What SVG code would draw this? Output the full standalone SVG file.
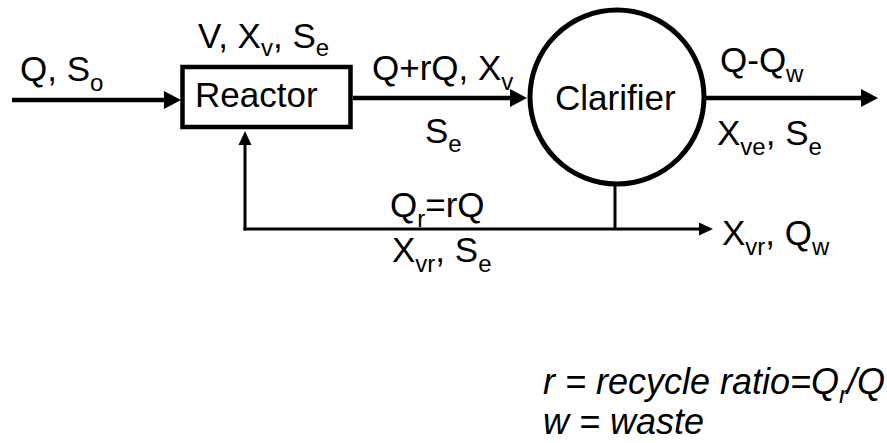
<svg xmlns="http://www.w3.org/2000/svg" width="887" height="443" viewBox="0 0 887 443">
<style>
text{font-family:"Liberation Sans",Arial,sans-serif;font-size:35px;fill:#000}
.sub{font-size:24px}
.it{font-style:italic;font-size:36px}
.thick{stroke:#000;stroke-width:4.5;fill:none}
.thin{stroke:#000;stroke-width:3;fill:none}
</style>
<defs>
<marker id="big" markerUnits="userSpaceOnUse" markerWidth="20" markerHeight="20" refX="0" refY="0" orient="auto" overflow="visible">
<path d="M0,-9 L17,0 L0,9 Z" fill="#000"/>
</marker>
<marker id="small" markerUnits="userSpaceOnUse" markerWidth="16" markerHeight="14" refX="0" refY="0" orient="auto" overflow="visible">
<path d="M0,-6.5 L14,0 L0,6.5 Z" fill="#000"/>
</marker>
</defs>
<rect width="887" height="443" fill="#fff"/>
<g id="connectors">
<line class="thick" x1="12" y1="100" x2="164" y2="100" marker-end="url(#big)"/>
<line class="thick" x1="353" y1="98" x2="510" y2="98" marker-end="url(#big)"/>
<line class="thick" x1="705" y1="98" x2="861" y2="98" marker-end="url(#big)"/>
<line class="thin" x1="615" y1="183" x2="615" y2="229"/>
<line class="thin" x1="243.5" y1="229" x2="699" y2="229" marker-end="url(#small)"/>
<line class="thin" x1="245" y1="230.5" x2="245" y2="145" marker-end="url(#small)"/>
</g>
<g id="reactor">
<rect class="thick" x="182.5" y="67" width="168" height="60"/>
<text x="195" y="107">Reactor</text>
</g>
<g id="clarifier">
<circle cx="617" cy="97" r="87" fill="none" stroke="#000" stroke-width="5"/>
<text x="555" y="110">Clarifier</text>
</g>
<g id="labels">
<text x="20" y="81">Q, S<tspan class="sub" dy="10">o</tspan></text>
<text x="198" y="48">V, X<tspan class="sub" dy="8">v</tspan><tspan dy="-8">, S</tspan><tspan class="sub" dy="8">e</tspan></text>
<text x="372" y="80">Q+rQ, X<tspan class="sub" dy="10">v</tspan></text>
<text x="425" y="143">S<tspan class="sub" dy="9">e</tspan></text>
<text x="720" y="72">Q-Q<tspan class="sub" dy="10">w</tspan></text>
<text x="717" y="145">X<tspan class="sub" dy="10">ve</tspan><tspan dy="-10">, S</tspan><tspan class="sub" dy="10">e</tspan></text>
<text x="722" y="245">X<tspan class="sub" dy="10">vr</tspan><tspan dy="-10">, Q</tspan><tspan class="sub" dy="10">w</tspan></text>
<text x="390" y="217">Q<tspan class="sub" dy="10">r</tspan><tspan dy="-10">=rQ</tspan></text>
<text x="392" y="262">X<tspan class="sub" dy="10">vr</tspan><tspan dy="-10">, S</tspan><tspan class="sub" dy="10">e</tspan></text>
<text class="it" x="543" y="394">r = recycle ratio=Q<tspan class="sub" dy="9">r</tspan><tspan dy="-9">/Q</tspan></text>
<text class="it" x="543" y="434">w = waste</text>
</g>
</svg>
